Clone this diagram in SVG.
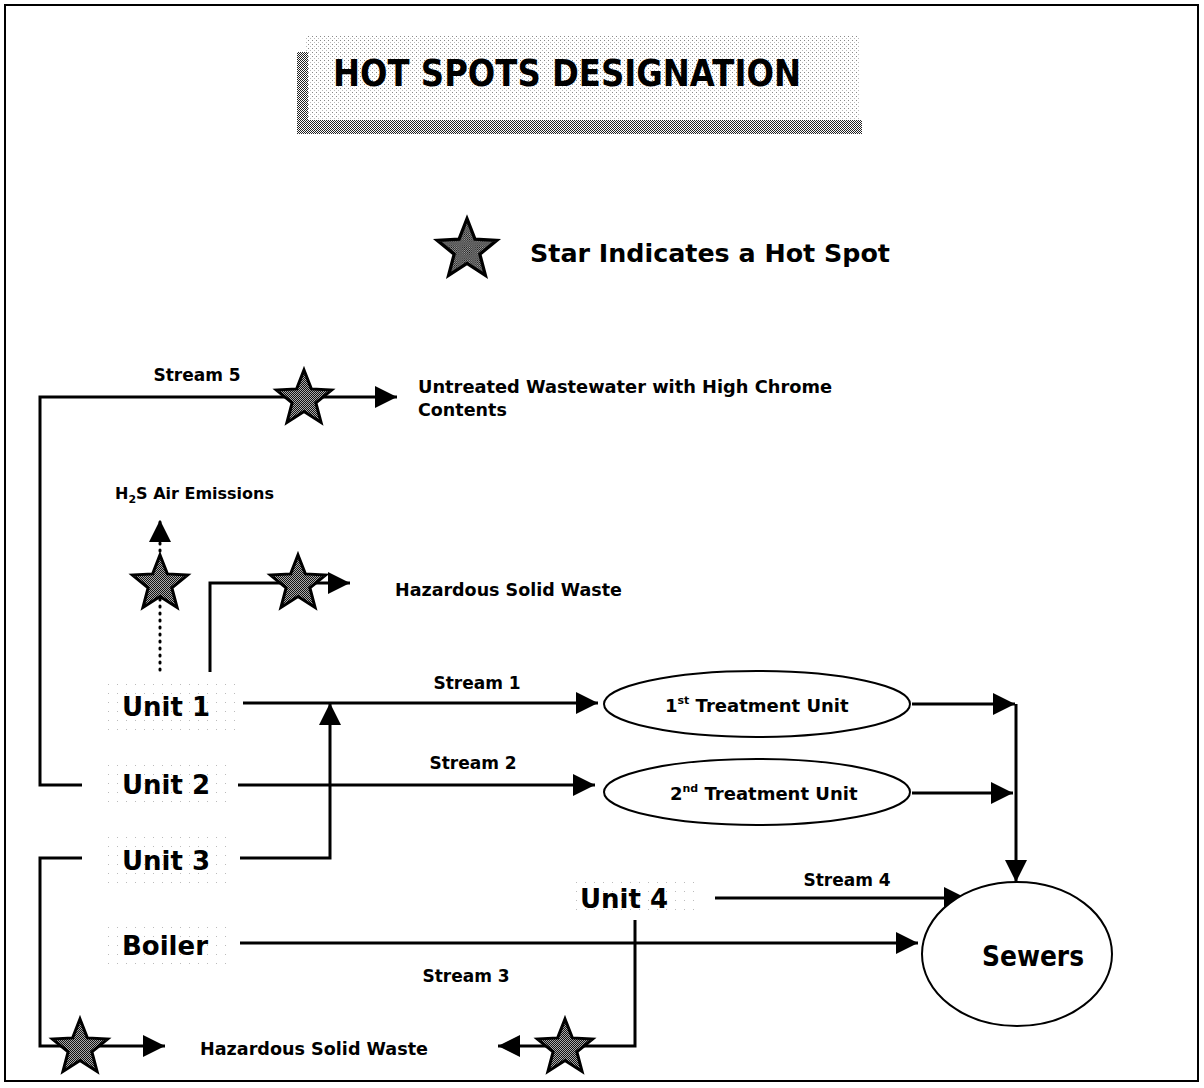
<svg xmlns="http://www.w3.org/2000/svg" width="1204" height="1088" viewBox="0 0 1204 1088">
<style>
text{font-family:"DejaVu Sans","Verdana",sans-serif;font-weight:bold;fill:#000}
.ln{fill:none;stroke:#000;stroke-width:3}
.dot{fill:none;stroke:#000;stroke-width:3;stroke-dasharray:1 6;stroke-linecap:round}
.arr{marker-end:url(#ah)}
.star{fill:url(#sf);stroke:#000;stroke-width:3;stroke-linejoin:miter}
.node{fill:#fff;stroke:#000;stroke-width:2}
.halo{fill:url(#sparse)}
.unit{font-size:26px}
.sl{font-size:17px}
.lab{font-size:17.5px}
</style>
<defs>
<pattern id="band" width="2" height="2" patternUnits="userSpaceOnUse">
<rect width="2" height="2" fill="#fff"/>
<rect width="1" height="1" fill="#222"/>
<rect x="1" y="1" width="1" height="1" fill="#222"/>
</pattern>
<pattern id="sf" width="2" height="2" patternUnits="userSpaceOnUse">
<rect width="2" height="2" fill="#aaa"/>
<rect width="1" height="1" fill="#111"/>
<rect x="1" y="1" width="1" height="1" fill="#111"/>
</pattern>
<pattern id="light" width="4" height="4" patternUnits="userSpaceOnUse">
<rect width="4" height="4" fill="#fff"/>
<rect width="1" height="1" fill="#888"/>
<rect x="2" y="2" width="1" height="1" fill="#bbb"/>
</pattern>
<pattern id="sparse" width="9" height="9" patternUnits="userSpaceOnUse">
<rect width="1" height="1" fill="#bbb"/>
</pattern>
<marker id="ah" markerUnits="userSpaceOnUse" markerWidth="24" markerHeight="24" refX="22" refY="11" orient="auto">
<path d="M0,0 L22,11 L0,22 Z" fill="#000"/>
</marker>
<path id="st" d="M0,-29 L7.35,-10.11 L27.58,-8.96 L11.89,3.86 L17.05,23.46 L0,12.5 L-17.05,23.46 L-11.89,3.86 L-27.58,-8.96 L-7.35,-10.11 Z"/>
</defs>
<rect x="0" y="0" width="1204" height="1088" fill="#fff"/>
<rect x="5" y="5" width="1193" height="1076" fill="none" stroke="#000" stroke-width="2"/>

<g id="title">
<rect x="306" y="36" width="554" height="84" fill="url(#light)"/>
<rect x="297" y="52" width="11" height="82" fill="url(#band)"/>
<rect x="297" y="120" width="565" height="14" fill="url(#band)"/>
<text x="333" y="86" font-size="38" textLength="468" lengthAdjust="spacingAndGlyphs">HOT SPOTS DESIGNATION</text>
</g>

<g id="legend">
<use href="#st" class="star" transform="translate(467,250) scale(1.08)"/>
<text x="530" y="262" font-size="25" textLength="360" lengthAdjust="spacingAndGlyphs">Star Indicates a Hot Spot</text>
</g>

<g id="connectors">
<path class="ln arr" d="M82,785 H40 V397 H397"/>
<path class="dot arr" d="M160,670 V520"/>
<path class="ln arr" d="M210,672 V583 H350"/>
<path class="ln arr" d="M243,703 H598"/>
<path class="ln arr" d="M238,785 H595"/>
<path class="ln arr" d="M240,858 H330 V703"/>
<path class="ln arr" d="M82,858 H40 V1046 H165"/>
<path class="ln arr" d="M240,943 H918"/>
<path class="ln arr" d="M715,898 H966"/>
<path class="ln arr" d="M635,920 V1046 H498"/>
<path class="ln arr" d="M912,704 H1015"/>
<path class="ln arr" d="M912,793 H1013"/>
<path class="ln arr" d="M1016,704 V882"/>
<use href="#st" class="star" transform="translate(304,399)"/>
<use href="#st" class="star" transform="translate(160,584)"/>
<use href="#st" class="star" transform="translate(298,584)"/>
<use href="#st" class="star" transform="translate(80,1048)"/>
<use href="#st" class="star" transform="translate(565,1048)"/>
<text class="sl" x="197" y="381" text-anchor="middle">Stream 5</text>
<text class="sl" x="477" y="689" text-anchor="middle">Stream 1</text>
<text class="sl" x="473" y="769" text-anchor="middle">Stream 2</text>
<text class="sl" x="466" y="982" text-anchor="middle">Stream 3</text>
<text class="sl" x="847" y="886" text-anchor="middle">Stream 4</text>
</g>

<g id="untreated">
<text class="lab" x="418" y="393" textLength="414" lengthAdjust="spacingAndGlyphs">Untreated Wastewater with High Chrome</text>
<text class="lab" x="418" y="416">Contents</text>
</g>
<g id="h2s">
<text x="115" y="499" font-size="16">H<tspan font-size="11" dy="4">2</tspan><tspan dy="-4">S Air Emissions</tspan></text>
</g>
<g id="haz1">
<text class="lab" x="395" y="596" textLength="227" lengthAdjust="spacingAndGlyphs">Hazardous Solid Waste</text>
</g>
<g id="haz2">
<text class="lab" x="200" y="1055" textLength="228" lengthAdjust="spacingAndGlyphs">Hazardous Solid Waste</text>
</g>

<g id="unit1">
<rect class="halo" x="103" y="680" width="135" height="50"/>
<text class="unit" x="122" y="716">Unit 1</text>
</g>
<g id="unit2">
<rect class="halo" x="103" y="760" width="130" height="50"/>
<text class="unit" x="122" y="794">Unit 2</text>
</g>
<g id="unit3">
<rect class="halo" x="103" y="836" width="130" height="50"/>
<text class="unit" x="122" y="870">Unit 3</text>
</g>
<g id="boiler">
<rect class="halo" x="100" y="922" width="133" height="44"/>
<text class="unit" x="122" y="955">Boiler</text>
</g>
<g id="unit4">
<rect class="halo" x="570" y="876" width="130" height="40"/>
<text class="unit" x="580" y="908">Unit 4</text>
</g>

<g id="t1">
<ellipse class="node" cx="757" cy="704" rx="153" ry="33"/>
<text x="665" y="712" font-size="18">1<tspan font-size="11" dy="-8">st</tspan><tspan dy="8"> Treatment Unit</tspan></text>
</g>
<g id="t2">
<ellipse class="node" cx="757" cy="792" rx="153" ry="33"/>
<text x="670" y="800" font-size="18">2<tspan font-size="11" dy="-8">nd</tspan><tspan dy="8"> Treatment Unit</tspan></text>
</g>
<g id="sewers">
<ellipse class="node" cx="1017" cy="954" rx="95" ry="72"/>
<text x="982" y="966" font-size="29" textLength="102" lengthAdjust="spacingAndGlyphs">Sewers</text>
</g>
</svg>
